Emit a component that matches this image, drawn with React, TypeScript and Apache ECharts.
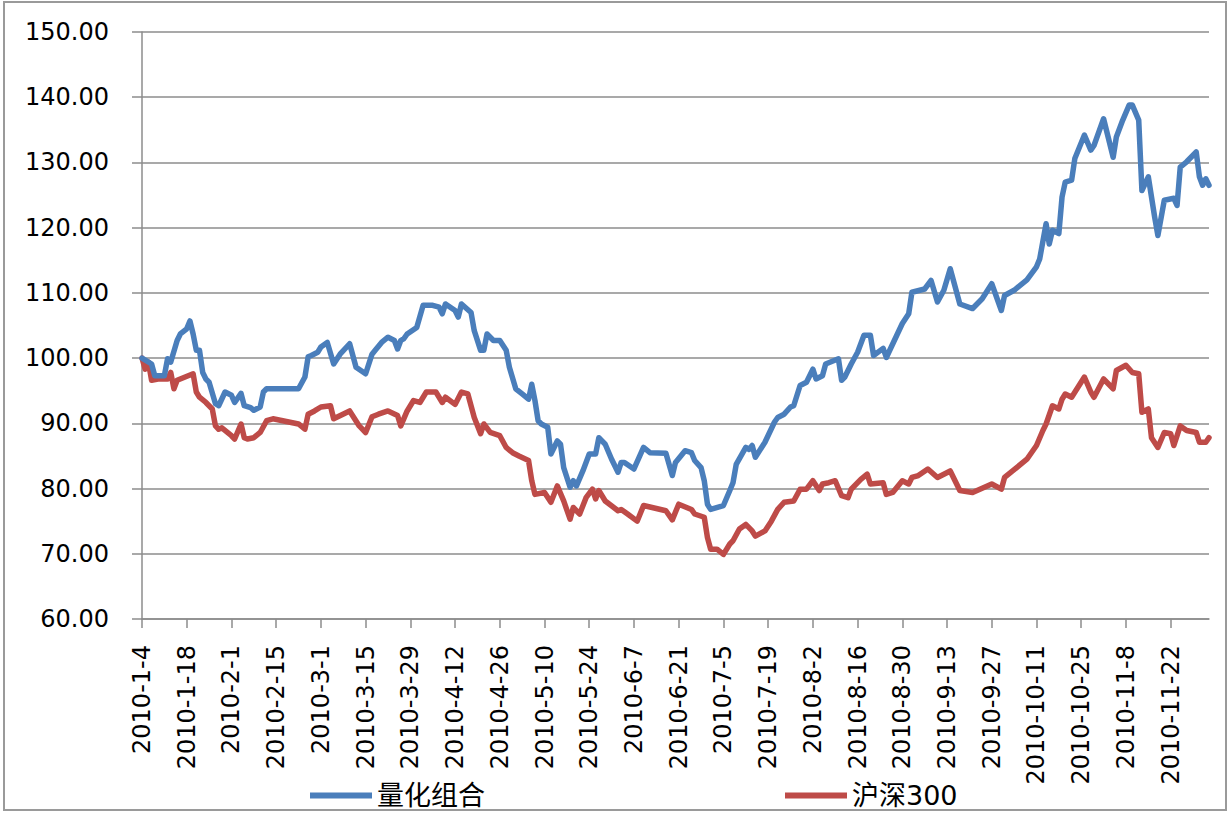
import React, { useEffect, useRef } from "react";
import * as echarts from "echarts";

// ---- data ----
const seriesNames = ["量化组合", "沪深300"];

const quantData: [string, number][] = [
  ["1-4", 100.0], ["1-7", 99.1], ["1-8", 97.3], ["1-11", 97.3], ["1-12", 99.9], ["1-13", 99.4],
  ["1-15", 102.7], ["1-16", 103.7], ["1-18", 104.5], ["1-19", 105.7], ["1-20", 103.7], ["1-21", 101.2],
  ["1-22", 101.2], ["1-23", 97.8], ["1-24", 96.8], ["1-25", 96.3], ["1-27", 93.0], ["1-28", 92.7],
  ["1-30", 94.8], ["2-1", 94.3], ["2-2", 93.2], ["2-4", 94.6], ["2-5", 92.7], ["2-7", 92.4],
  ["2-8", 92.0], ["2-10", 92.5], ["2-11", 94.8], ["2-12", 95.3], ["2-22", 95.3], ["2-24", 97.1],
  ["2-25", 100.2], ["2-26", 100.4], ["2-28", 100.9], ["3-1", 101.7], ["3-3", 102.4], ["3-5", 99.1],
  ["3-7", 100.6], ["3-10", 102.2], ["3-12", 98.6], ["3-15", 97.6], ["3-17", 100.6], ["3-18", 101.2],
  ["3-20", 102.4], ["3-22", 103.2], ["3-24", 102.7], ["3-25", 101.4], ["3-26", 102.7], ["3-27", 103.0],
  ["3-28", 103.7], ["3-31", 104.7], ["4-2", 108.1], ["4-5", 108.1], ["4-7", 107.8], ["4-8", 106.8],
  ["4-9", 108.3], ["4-12", 107.3], ["4-13", 106.3], ["4-14", 108.3], ["4-17", 107.0], ["4-18", 104.2],
  ["4-20", 101.2], ["4-21", 101.2], ["4-22", 103.7], ["4-24", 102.7], ["4-26", 102.7], ["4-28", 101.2],
  ["4-29", 98.6], ["5-1", 95.3], ["5-3", 94.5], ["5-5", 93.7], ["5-6", 96.0], ["5-7", 93.5],
  ["5-8", 90.4], ["5-9", 89.9], ["5-11", 89.4], ["5-12", 85.3], ["5-14", 87.3], ["5-15", 86.8],
  ["5-16", 83.2], ["5-18", 80.2], ["5-19", 81.2], ["5-20", 80.4], ["5-22", 82.7], ["5-24", 85.3],
  ["5-26", 85.3], ["5-27", 87.8], ["5-29", 86.8], ["5-31", 84.5], ["6-2", 82.5], ["6-3", 84.0],
  ["6-4", 84.0], ["6-7", 83.0], ["6-10", 86.3], ["6-12", 85.5], ["6-17", 85.4], ["6-19", 82.0],
  ["6-20", 84.0], ["6-23", 85.8], ["6-25", 85.5], ["6-26", 84.3], ["6-28", 83.2], ["6-29", 81.2],
  ["6-30", 77.6], ["7-1", 76.8], ["7-5", 77.4], ["7-7", 79.7], ["7-8", 80.9], ["7-9", 83.7],
  ["7-12", 86.3], ["7-13", 86.0], ["7-14", 86.6], ["7-15", 84.8], ["7-18", 87.1], ["7-21", 90.2],
  ["7-22", 90.9], ["7-24", 91.4], ["7-26", 92.5], ["7-27", 92.7], ["7-29", 95.8], ["7-31", 96.3],
  ["8-2", 98.3], ["8-3", 96.8], ["8-5", 97.3], ["8-6", 99.1], ["8-10", 99.9], ["8-11", 96.6],
  ["8-12", 97.1], ["8-14", 99.1], ["8-16", 100.9], ["8-18", 103.5], ["8-20", 103.5], ["8-21", 100.4],
  ["8-24", 101.5], ["8-25", 100.1], ["8-30", 105.3], ["9-1", 106.8], ["9-2", 110.1], ["9-6", 110.6],
  ["9-8", 111.9], ["9-10", 108.6], ["9-12", 110.4], ["9-14", 113.7], ["9-17", 108.3], ["9-21", 107.6],
  ["9-24", 109.1], ["9-27", 111.4], ["9-30", 107.3], ["10-1", 109.6], ["10-4", 110.4], ["10-8", 112.0],
  ["10-11", 114.0], ["10-12", 115.2], ["10-14", 120.6], ["10-15", 117.5], ["10-16", 119.6], ["10-18", 119.1],
  ["10-19", 124.7], ["10-20", 127.0], ["10-22", 127.3], ["10-23", 130.6], ["10-26", 134.2], ["10-28", 131.9],
  ["10-29", 132.6], ["11-1", 136.7], ["11-4", 130.8], ["11-5", 133.9], ["11-7", 136.5], ["11-9", 138.8],
  ["11-10", 138.8], ["11-12", 136.5], ["11-13", 125.7], ["11-15", 127.8], ["11-17", 121.6], ["11-18", 118.8],
  ["11-20", 124.2], ["11-23", 124.5], ["11-24", 123.4], ["11-25", 129.3], ["11-27", 130.1], ["11-30", 131.6],
  ["12-1", 127.8], ["12-2", 126.5], ["12-3", 127.5], ["12-4", 126.5],
];

const hs300Data: [string, number][] = [
  ["1-4", 100.0], ["1-5", 98.3], ["1-6", 99.4], ["1-7", 96.6], ["1-9", 96.8], ["1-12", 96.8],
  ["1-13", 97.8], ["1-14", 95.3], ["1-15", 96.6], ["1-20", 97.6], ["1-21", 94.8], ["1-22", 94.0],
  ["1-24", 93.2], ["1-26", 92.2], ["1-27", 89.6], ["1-28", 89.1], ["1-29", 89.3], ["2-1", 88.1],
  ["2-2", 87.6], ["2-4", 89.9], ["2-5", 87.8], ["2-6", 87.6], ["2-8", 87.8], ["2-10", 88.6],
  ["2-12", 90.4], ["2-14", 90.7], ["2-22", 89.9], ["2-24", 89.1], ["2-25", 91.4], ["2-27", 91.9],
  ["3-1", 92.5], ["3-4", 92.7], ["3-5", 90.7], ["3-10", 91.9], ["3-13", 89.6], ["3-15", 88.6],
  ["3-17", 91.0], ["3-19", 91.4], ["3-22", 91.9], ["3-25", 91.2], ["3-26", 89.6], ["3-28", 91.9],
  ["3-30", 93.5], ["4-1", 93.2], ["4-3", 94.8], ["4-6", 94.8], ["4-8", 93.2], ["4-9", 94.0],
  ["4-12", 92.9], ["4-14", 94.8], ["4-16", 94.5], ["4-18", 90.9], ["4-20", 88.4], ["4-21", 89.9],
  ["4-23", 88.6], ["4-26", 88.1], ["4-28", 86.3], ["4-30", 85.5], ["5-2", 85.0], ["5-5", 84.3],
  ["5-6", 81.2], ["5-7", 79.1], ["5-10", 79.4], ["5-12", 77.9], ["5-14", 80.4], ["5-16", 78.1],
  ["5-18", 75.3], ["5-19", 77.1], ["5-21", 76.1], ["5-23", 78.6], ["5-25", 79.9], ["5-26", 78.4],
  ["5-27", 79.7], ["5-29", 78.1], ["6-2", 76.6], ["6-3", 76.8], ["6-5", 76.1], ["6-8", 75.0],
  ["6-10", 77.4], ["6-17", 76.6], ["6-19", 75.2], ["6-21", 77.6], ["6-25", 76.8], ["6-26", 76.1],
  ["6-29", 75.6], ["6-30", 72.5], ["7-1", 70.7], ["7-3", 70.7], ["7-5", 69.9], ["7-7", 71.5],
  ["7-8", 72.0], ["7-10", 73.8], ["7-12", 74.5], ["7-14", 73.5], ["7-15", 72.7], ["7-18", 73.5],
  ["7-20", 75.0], ["7-22", 76.8], ["7-24", 77.9], ["7-27", 78.1], ["7-29", 79.9], ["7-31", 79.9],
  ["8-2", 81.2], ["8-4", 79.7], ["8-5", 80.7], ["8-7", 80.9], ["8-9", 81.2], ["8-11", 78.9],
  ["8-13", 78.6], ["8-14", 79.9], ["8-17", 81.4], ["8-19", 82.2], ["8-20", 80.7], ["8-24", 80.9],
  ["8-25", 79.1], ["8-27", 79.4], ["8-30", 81.2], ["9-1", 80.7], ["9-2", 81.7], ["9-4", 82.0],
  ["9-7", 83.0], ["9-10", 81.7], ["9-14", 82.7], ["9-17", 79.7], ["9-21", 79.4], ["9-27", 80.7],
  ["9-30", 79.9], ["10-1", 81.7], ["10-8", 84.5], ["10-11", 86.6], ["10-13", 88.9], ["10-14", 89.9],
  ["10-16", 92.7], ["10-18", 92.2], ["10-19", 93.7], ["10-20", 94.5], ["10-22", 94.0], ["10-26", 97.1],
  ["10-28", 94.8], ["10-29", 94.0], ["11-1", 96.8], ["11-4", 95.3], ["11-5", 98.1], ["11-8", 98.9],
  ["11-10", 97.8], ["11-12", 97.6], ["11-13", 91.7], ["11-15", 92.2], ["11-16", 87.8], ["11-18", 86.3],
  ["11-20", 88.6], ["11-22", 88.4], ["11-23", 86.6], ["11-25", 89.6], ["11-27", 88.9], ["11-30", 88.6],
  ["12-1", 87.1], ["12-3", 87.1], ["12-4", 87.8],
];

const YEAR = 2010;
const AXIS_START: [number, number] = [1, 4]; // month, day
const AXIS_DAYS = 335; // calendar days shown on the date axis
const TICK_EVERY_DAYS = 14;
const Y_MIN = 60;
const Y_MAX = 150;
const Y_STEP = 10;

const COLORS = ["#4A7EBB", "#BE4B48"];
const FONT = "'DejaVu Sans', 'Noto Sans CJK SC', sans-serif";

function buildCategories(): string[] {
  const out: string[] = [];
  const t0 = Date.UTC(YEAR, AXIS_START[0] - 1, AXIS_START[1]);
  for (let i = 0; i < AXIS_DAYS; i++) {
    const d = new Date(t0 + i * 86400000);
    out.push(`${d.getUTCFullYear()}-${d.getUTCMonth() + 1}-${d.getUTCDate()}`);
  }
  return out;
}

export default function App() {
  const ref = useRef<HTMLDivElement>(null);

  useEffect(() => {
    if (!ref.current) return;
    const chart = echarts.init(ref.current, null, { renderer: "svg" });
    const categories = buildCategories();
    const idx: Record<string, number> = {};
    categories.forEach((c, i) => (idx[c] = i));
    const toPoints = (arr: [string, number][]) =>
      arr.map(([md, v]) => [idx[`${YEAR}-${md}`], v]);

    const legendCommon = {
      top: 777,
      itemWidth: 62,
      itemHeight: 6,
      icon: "rect",
      textStyle: { fontSize: 27, color: "#000", fontFamily: FONT },
    };

    chart.setOption({
      animation: false,
      backgroundColor: "#fff",
      color: COLORS,
      grid: { left: 142, right: 21, top: 32, bottom: 194, containLabel: false },
      legend: [
        { ...legendCommon, left: 305, data: [seriesNames[0]] },
        { ...legendCommon, left: 780, data: [seriesNames[1]] },
      ],
      graphic: [
        {
          type: "rect",
          shape: { x: 4, y: 2, width: 1222, height: 808 },
          style: { fill: "none", stroke: "#9a9a9a", lineWidth: 2 },
          silent: true,
        },
      ],
      xAxis: {
        type: "category",
        data: categories,
        boundaryGap: false,
        axisLine: { show: true, lineStyle: { color: "#8c8c8c", width: 1.5 } },
        axisTick: {
          show: true,
          interval: TICK_EVERY_DAYS - 1,
          length: 9,
          lineStyle: { color: "#8c8c8c", width: 1.5 },
        },
        axisLabel: {
          interval: TICK_EVERY_DAYS - 1,
          rotate: 90,
          margin: 26,
          fontSize: 24,
          color: "#000",
          fontFamily: FONT,
        },
        splitLine: { show: false },
      },
      yAxis: {
        type: "value",
        min: Y_MIN,
        max: Y_MAX,
        interval: Y_STEP,
        axisLine: { show: true, lineStyle: { color: "#8c8c8c", width: 1.5 } },
        axisTick: { show: true, length: 10, lineStyle: { color: "#8c8c8c", width: 1.5 } },
        axisLabel: {
          margin: 33,
          fontSize: 24,
          color: "#000",
          fontFamily: FONT,
          formatter: (v: number) => v.toFixed(2),
        },
        splitLine: { show: true, lineStyle: { color: "#8c8c8c", width: 1.5 } },
      },
      series: [
        {
          name: seriesNames[0],
          type: "line",
          data: toPoints(quantData),
          showSymbol: false,
          symbol: "none",
          lineStyle: { width: 5.5, color: COLORS[0], join: "round", cap: "round" },
          z: 3,
        },
        {
          name: seriesNames[1],
          type: "line",
          data: toPoints(hs300Data),
          showSymbol: false,
          symbol: "none",
          lineStyle: { width: 5.5, color: COLORS[1], join: "round", cap: "round" },
          z: 2,
        },
      ],
    });
    return () => chart.dispose();
  }, []);

  return (
    <div
      ref={ref}
      style={{ position: "absolute", left: 0, top: 0, width: 1230, height: 813 }}
    />
  );
}
